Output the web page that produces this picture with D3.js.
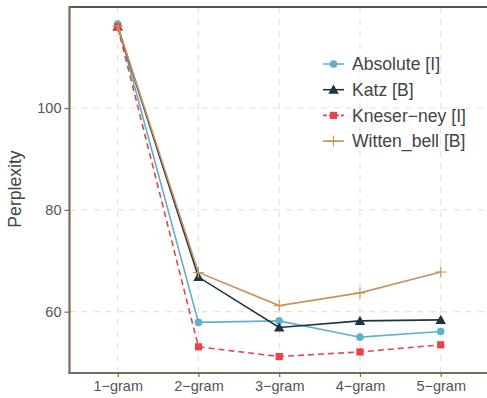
<!DOCTYPE html>
<html><head><meta charset="utf-8">
<script src="https://cdn.jsdelivr.net/npm/d3@7"></script>
<style>body{margin:0;background:#fff}svg{display:block}text{font-family:"Liberation Sans",Arial,Helvetica,sans-serif}</style>
</head><body><svg id="c" width="487" height="398"></svg>
<script>
const categories = ["1−gram","2−gram","3−gram","4−gram","5−gram"];
const seriesNames = ["Absolute [I]","Katz [B]","Kneser−ney [I]","Witten_bell [B]"];
const absolute = [116.5, 57.9, 58.2, 55.0, 56.1];
const katz = [116.0, 66.8, 56.9, 58.2, 58.4];
const kneser = [115.9, 53.1, 51.2, 52.1, 53.5];
const witten = [116.1, 67.7, 61.2, 63.7, 67.8];
const yTicks = [60, 80, 100];

const colors = ["#5eb1cb","#1e3440","#e8434a","#c8935c"];
const shapes = ["circle","triangle","square","plus"];
const dashes = [null,null,"6,4",null];
const data = [absolute, katz, kneser, witten];

const svg = d3.select("#c");
const L = 69.5, R = 490, T = 7, B = 373;
const x = d3.scalePoint().domain(categories).range([117.7, 440.7]);
const y = d3.scaleLinear().domain([60,100]).range([311.7,108]);

const grid = svg.append("g").attr("stroke","#ece1d6").attr("stroke-width",1.2).attr("stroke-dasharray","6,6");
yTicks.forEach(t=>grid.append("line").attr("x1",L).attr("x2",R).attr("y1",y(t)).attr("y2",y(t)));
categories.forEach(c=>grid.append("line").attr("x1",x(c)).attr("x2",x(c)).attr("y1",T).attr("y2",B));

// axes
const yAxis = d3.axisLeft(y).tickValues(yTicks).tickSize(5).tickPadding(3);
const gy = svg.append("g").attr("transform",`translate(${L},0)`).call(yAxis);
const xAxis = d3.axisBottom(x).tickSize(4).tickPadding(4);
const gx = svg.append("g").attr("transform",`translate(0,${B})`).call(xAxis);
[gy,gx].forEach(g=>{
  g.select(".domain").remove();
  g.selectAll(".tick line").attr("stroke","#7a6a58").attr("stroke-width",1.2);
  g.selectAll(".tick text").attr("fill","#555").attr("font-size","14.5px").style("font-family",'"Liberation Sans",Arial,sans-serif');
});
svg.append("line").attr("x1",L).attr("x2",R).attr("y1",T).attr("y2",T).attr("stroke","#555").attr("stroke-width",2.2);
svg.append("line").attr("x1",L).attr("x2",L).attr("y1",T-1).attr("y2",B+1).attr("stroke","#7a6a58").attr("stroke-width",2.2);
svg.append("line").attr("x1",L-1).attr("x2",R).attr("y1",B).attr("y2",B).attr("stroke","#7a6a58").attr("stroke-width",2.2);

svg.append("text").attr("transform",`translate(21,189) rotate(-90)`).attr("text-anchor","middle")
  .attr("fill","#444").attr("font-size","17.6px").text("Perplexity");

function marker(g, shape, color, cx, cy){
  if(shape==="circle") g.append("circle").attr("cx",cx).attr("cy",cy).attr("r",3.8).attr("fill",color);
  else if(shape==="triangle") g.append("path").attr("d",d3.symbol(d3.symbolTriangle,48)()).attr("transform",`translate(${cx},${cy+1})`).attr("fill",color);
  else if(shape==="square") g.append("rect").attr("x",cx-3.6).attr("y",cy-3.6).attr("width",7.2).attr("height",7.2).attr("fill",color);
  else { g.append("path").attr("d",`M${cx-5.5},${cy}H${cx+5.5}M${cx},${cy-5.5}V${cy+5.5}`).attr("stroke",color).attr("stroke-width",1.1); }
}

const line = d3.line().x((d,i)=>x(categories[i])).y(d=>y(d));
data.forEach((vals,k)=>{
  const g = svg.append("g");
  g.append("path").attr("d",line(vals)).attr("fill","none").attr("stroke",colors[k]).attr("stroke-width",1.6).attr("stroke-dasharray",dashes[k]);
  vals.forEach((v,i)=>marker(g, shapes[k], colors[k], x(categories[i]), y(v)));
});

// legend
const lg = svg.append("g");
seriesNames.forEach((n,k)=>{
  const cy = 64 + k*25.7;
  lg.append("line").attr("x1",323).attr("x2",344).attr("y1",cy).attr("y2",cy).attr("stroke",colors[k]).attr("stroke-width",1.6).attr("stroke-dasharray",dashes[k]?"4,2":null);
  marker(lg, shapes[k], colors[k], 333.5, cy);
  lg.append("text").attr("x",352).attr("y",cy).attr("dy","0.36em").attr("fill","#444").attr("font-size","17.6px").text(n);
});
</script></body></html>
